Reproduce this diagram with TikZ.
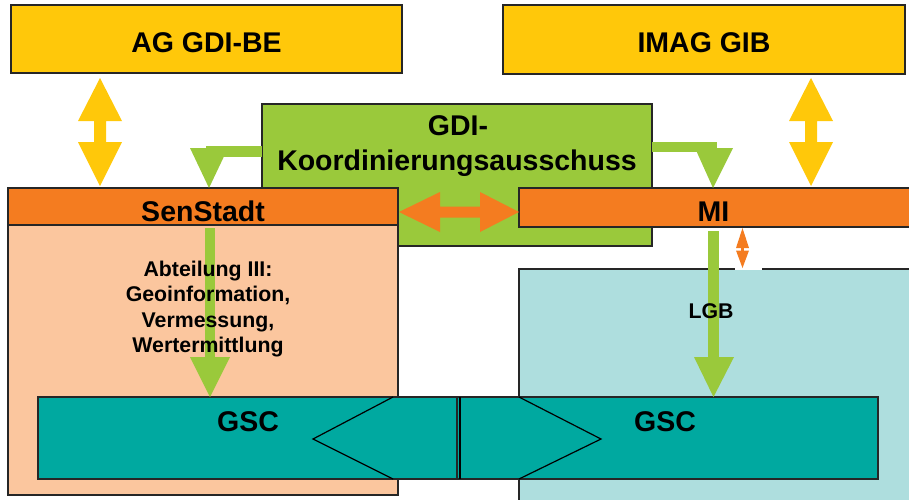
\documentclass[tikz,border=0pt]{standalone}
\usepackage{fontspec}
\setmainfont{Liberation Sans}
\definecolor{cyel}{RGB}{255,200,10}
\definecolor{corg}{RGB}{244,124,32}
\definecolor{cpea}{RGB}{251,198,158}
\definecolor{cgrn}{RGB}{154,201,59}
\definecolor{cblu}{RGB}{174,222,222}
\definecolor{cteal}{RGB}{0,169,160}
\tikzset{
  box/.style={draw=black!85, line width=1.2pt, inner sep=0pt, outer sep=0pt, anchor=north west},
  big/.style={font=\bfseries\fontsize{28.5}{34}\selectfont, anchor=base, inner sep=0pt},
  small/.style={font=\bfseries\fontsize{21.3}{25}\selectfont, anchor=base, inner sep=0pt},
  chev/.style={draw=black, line width=1.2pt, line join=miter},
}
\begin{document}
\begin{tikzpicture}[x=1pt,y=-1pt]
\useasboundingbox (0,0) rectangle (909,499);
% top boxes
\node[box, fill=cyel, minimum width=391pt, minimum height=68pt] (ag) at (11,5) {};
\node[box, fill=cyel, minimum width=402pt, minimum height=69pt] (imag) at (503,5) {};
\node[big] (agt) at (206.5,52) {AG GDI-BE};
\node[big] (imagt) at (704,52) {IMAG GIB};
% GDI box
\node[box, fill=cgrn, minimum width=390pt, minimum height=142pt] (gdi) at (262,104) {};
\node[big] (gdit1) at (458,135) {GDI-};
\node[big] (gdit2) at (457,170) {Koordinierungsausschuss};
% left side
\node[box, fill=cpea, minimum width=390pt, minimum height=270pt] (pea) at (8,225) {};
\node[box, fill=corg, minimum width=390pt, minimum height=37pt] (sen) at (8,188) {};
\node[big] (sent) at (203,221) {SenStadt};
% right side
\node[box, fill=cblu, minimum width=400pt, minimum height=240pt] (blu) at (519,269) {};
\node[box, fill=corg, minimum width=400pt, minimum height=39pt] (mi) at (519,188) {};
\node[big] (mit) at (713.5,221.5) {MI};
\draw[white, line width=1.6pt] (735,269) -- (762,269);
% yellow double arrows
\fill[cyel] (100,78) -- (122,121) -- (106,121) -- (106,142) -- (122,142) -- (100,186) -- (78,142) -- (94,142) -- (94,121) -- (78,121) -- cycle;
\fill[cyel] (811,78) -- (833,121) -- (817,121) -- (817,142) -- (833,142) -- (811,186) -- (789,142) -- (805,142) -- (805,121) -- (789,121) -- cycle;
% orange horizontal double arrow
\fill[corg] (399,212) -- (440,192) -- (440,206.5) -- (480,206.5) -- (480,192) -- (519,212) -- (480,232) -- (480,217.5) -- (440,217.5) -- (440,232) -- cycle;
% green elbow arrows
\fill[cgrn] (206,146) rectangle (262,157);
\fill[cgrn] (190,148) -- (228,148) -- (209,188) -- cycle;
\fill[cgrn] (652,142) rectangle (717,152);
\fill[cgrn] (695,148) -- (733,148) -- (713,188) -- cycle;
% GSC boxes
\node[box, fill=cteal, minimum width=419pt, minimum height=82pt] (gscl) at (38,397) {};
\node[box, fill=cteal, minimum width=421pt, minimum height=82pt] (gscr) at (457,397) {};
\draw[black, line width=1.2pt] (460,397) -- (460,479);
\draw[chev] (393,397) -- (313,439) -- (393,479);
\draw[chev] (519,397) -- (601,439) -- (519,479);
\node[big] (gsclt) at (248,431) {GSC};
\node[big] (gscrt) at (665,431) {GSC};
% green vertical arrows
\fill[cgrn] (205,228) rectangle (215,357);
\fill[cgrn] (190,357) -- (230,357) -- (210,397) -- cycle;
\fill[cgrn] (708,231) rectangle (719,357);
\fill[cgrn] (694,357) -- (734,357) -- (713.5,397) -- cycle;
% small orange double arrow
\fill[corg] (742.5,228) -- (749,248) -- (736,248) -- cycle;
\fill[corg] (742.5,268) -- (749,250.5) -- (736,250.5) -- cycle;
\fill[corg] (741,247) rectangle (744,251.5);
% texts
\node[small] (ab1) at (208,276.7) {Abteilung III:};
\node[small] (ab2) at (208,301.7) {Geoinformation,};
\node[small] (ab3) at (208,327) {Vermessung,};
\node[small] (ab4) at (208,352.7) {Wertermittlung};
\node[small] (lgb) at (711,318) {LGB};
\end{tikzpicture}
\end{document}
